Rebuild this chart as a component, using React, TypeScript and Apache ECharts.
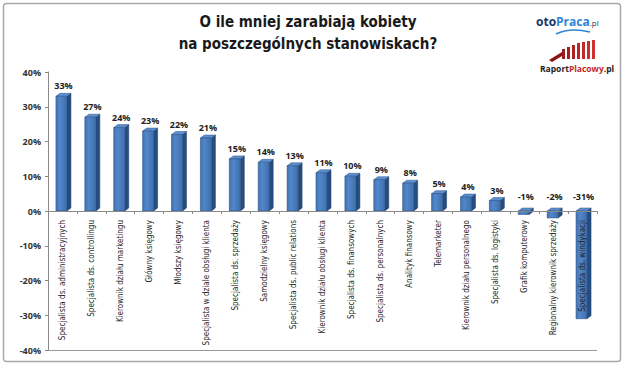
import React, { useEffect, useRef } from "react";
import * as echarts from "echarts";

const categories = [
  "Specjalista ds. administracyjnych",
  "Specjalista ds. controllingu",
  "Kierownik działu marketingu",
  "Główny księgowy",
  "Młodszy księgowy",
  "Specjalista w dziale obsługi klienta",
  "Specjalista ds. sprzedaży",
  "Samodzielny księgowy",
  "Specjalista ds. public relations",
  "Kierownik działu obsługi klienta",
  "Specjalista ds. finansowych",
  "Specjalista ds. personalnych",
  "Analityk finansowy",
  "Telemarketer",
  "Kierownik działu personalnego",
  "Specjalista ds. logistyki",
  "Grafik komputerowy",
  "Regionalny kierownik sprzedaży",
  "Specjalista ds. windykacji",
];
const values = [33, 27, 24, 23, 22, 21, 15, 14, 13, 11, 10, 9, 8, 5, 4, 3, -1, -2, -31];
const yMin = -40;
const yMax = 40;
const yStep = 10;

const NARROW = "'Liberation Sans Narrow', 'DejaVu Sans Condensed', 'Noto Sans', sans-serif";

const GRID_TOP = 72;
const GRID_H = 278;

export default function App() {
  const ref = useRef<HTMLDivElement>(null);
  useEffect(() => {
    if (!ref.current) return;
    const chart = echarts.init(ref.current, undefined, { renderer: "svg" });
    const splitColors = ["#9a9a9a"];
    for (let i = 0; i < 8; i++) splitColors.push("rgba(0,0,0,0)");
    const zeroOffset = (GRID_H * (0 - yMin)) / (yMax - yMin);
    chart.setOption({
      animation: false,
      backgroundColor: "#ffffff",
      grid: {
        left: 48,
        right: 28,
        top: GRID_TOP,
        height: GRID_H,
        containLabel: false,
        outerBoundsMode: "none",
      },
      title: {
        text: "O ile mniej zarabiają kobiety\nna poszczególnych stanowiskach?",
        left: 303,
        top: 6,
        textAlign: "center",
        textStyle: {
          fontFamily: NARROW,
          fontWeight: "bold",
          fontSize: 15,
          lineHeight: 22,
          color: "#1a1a1a",
        },
      },
      xAxis: {
        type: "category",
        data: categories,
        position: "bottom",
        offset: -zeroOffset,
        z: 10,
        axisLine: { onZero: false, lineStyle: { color: "#8a8a8a", width: 1 } },
        axisTick: { show: true, length: 3, lineStyle: { color: "#8a8a8a" } },
        axisLabel: {
          rotate: 90,
          interval: 0,
          margin: 9,
          fontSize: 8,
          fontFamily: NARROW,
          color: "#1e1e1e",
        },
        splitLine: { show: false },
      },
      yAxis: {
        type: "value",
        min: yMin,
        max: yMax,
        interval: yStep,
        axisLine: { show: true, lineStyle: { color: "#8a8a8a" } },
        axisTick: { show: true, length: 3, lineStyle: { color: "#8a8a8a" } },
        axisLabel: {
          formatter: "{value}%",
          fontSize: 9,
          fontWeight: "bold",
          fontFamily: "'Open Sans', sans-serif",
          color: "#333",
          margin: 7,
        },
        splitLine: { show: true, lineStyle: { color: splitColors, width: 1 } },
      },
      series: [
        {
          type: "custom",
          data: values.map((v, i) => [i, v]),
          encode: { x: 0, y: 1 },
          z: 1,
          renderItem: (params: any, api: any) => {
            const i = api.value(0);
            const v = api.value(1);
            const top = api.coord([i, v]);
            const base = api.coord([i, 0]);
            const w = 11;
            const dx = 4;
            const dy = 3;
            const x0 = top[0] - w / 2 - 1;
            const yT = Math.min(top[1], base[1]);
            const yB = Math.max(top[1], base[1]);
            const labelY = v >= 0 ? yT - dy - 3 : base[1] - 10;
            return {
              type: "group",
              children: [
                {
                  type: "polygon",
                  shape: {
                    points: [
                      [x0 + w, yT],
                      [x0 + w + dx, yT - dy],
                      [x0 + w + dx, yB - dy],
                      [x0 + w, yB],
                    ],
                  },
                  style: { fill: "#254d80", stroke: "#1e3f6b", lineWidth: 0.5 },
                },
                {
                  type: "polygon",
                  shape: {
                    points: [
                      [x0, yT],
                      [x0 + dx, yT - dy],
                      [x0 + w + dx, yT - dy],
                      [x0 + w, yT],
                    ],
                  },
                  style: { fill: "#5d8fcf", stroke: "#2c5487", lineWidth: 0.5 },
                },
                {
                  type: "rect",
                  shape: { x: x0, y: yT, width: w, height: Math.max(yB - yT, 0.5) },
                  style: {
                    fill: new echarts.graphic.LinearGradient(0, 0, 1, 0, [
                      { offset: 0, color: "#4273b4" },
                      { offset: 0.35, color: "#5287ca" },
                      { offset: 1, color: "#3f6eac" },
                    ]),
                    stroke: "#2c5487",
                    lineWidth: 0.6,
                  },
                },
                {
                  type: "text",
                  style: {
                    text: v + "%",
                    x: top[0] + 1,
                    y: labelY,
                    textAlign: "center",
                    textVerticalAlign: "bottom",
                    font: "bold 9px 'Open Sans', sans-serif",
                    fill: "#222",
                  },
                },
              ],
            };
          },
        },
      ],
      graphic: [
        {
          type: "rect",
          shape: { x: 3.5, y: 3.5, width: 617, height: 358, r: 3 },
          style: { fill: "none", stroke: "#a9a9a9", lineWidth: 1.5 },
          silent: true,
        },
        {
          type: "text",
          left: 536,
          top: 15,
          style: {
            text: "{a|oto}{b|Praca}{c|.pl}",
            rich: {
              a: { fontSize: 12, fontFamily: "'Open Sans', sans-serif", fill: "#1b3565", fontWeight: "bold" },
              b: { fontSize: 12, fontFamily: "'Open Sans', sans-serif", fill: "#2d84d6", fontWeight: "bold" },
              c: { fontSize: 8, fontFamily: "'Open Sans', sans-serif", fill: "#1b3565", padding: [3, 0, 0, 0] },
            },
          },
        },
        {
          type: "bezierCurve",
          shape: { x1: 556, y1: 34, x2: 590, y2: 32, cpx1: 566, cpy1: 29, cpx2: 578, cpy2: 29 },
          style: { stroke: "#2d84d6", lineWidth: 1.5, fill: "none" },
        },
        {
          type: "group",
          children: [
            { type: "polygon", shape: { points: [[549, 60], [562, 52], [562, 56], [552, 62]] }, style: { fill: "#8a1414" } },
            { type: "rect", shape: { x: 562, y: 49, width: 3, height: 10 }, style: { fill: "#9e1b1b" } },
            { type: "rect", shape: { x: 567, y: 47, width: 3, height: 12 }, style: { fill: "#a61e1e" } },
            { type: "rect", shape: { x: 572, y: 45, width: 3, height: 14 }, style: { fill: "#b02222" } },
            { type: "rect", shape: { x: 577, y: 43, width: 3, height: 16 }, style: { fill: "#b82626" } },
            { type: "rect", shape: { x: 582, y: 42, width: 3, height: 17 }, style: { fill: "#c02a2a" } },
            { type: "rect", shape: { x: 587, y: 41, width: 3, height: 18 }, style: { fill: "#c62e2e" } },
            { type: "rect", shape: { x: 592, y: 40, width: 3, height: 19 }, style: { fill: "#cc3333" } },
          ],
        },
        {
          type: "text",
          left: 540,
          top: 64,
          style: {
            text: "{a|Raport}{b|Placowy}{a|.pl}",
            rich: {
              a: { fontSize: 8.5, fontFamily: "'Open Sans', sans-serif", fill: "#222", fontWeight: "bold" },
              b: { fontSize: 8.5, fontFamily: "'Open Sans', sans-serif", fill: "#c8262b", fontWeight: "bold" },
            },
          },
        },
      ],
    });
    return () => chart.dispose();
  }, []);
  return <div ref={ref} style={{ width: 625, height: 366, position: "absolute", left: 0, top: 0 }} />;
}
